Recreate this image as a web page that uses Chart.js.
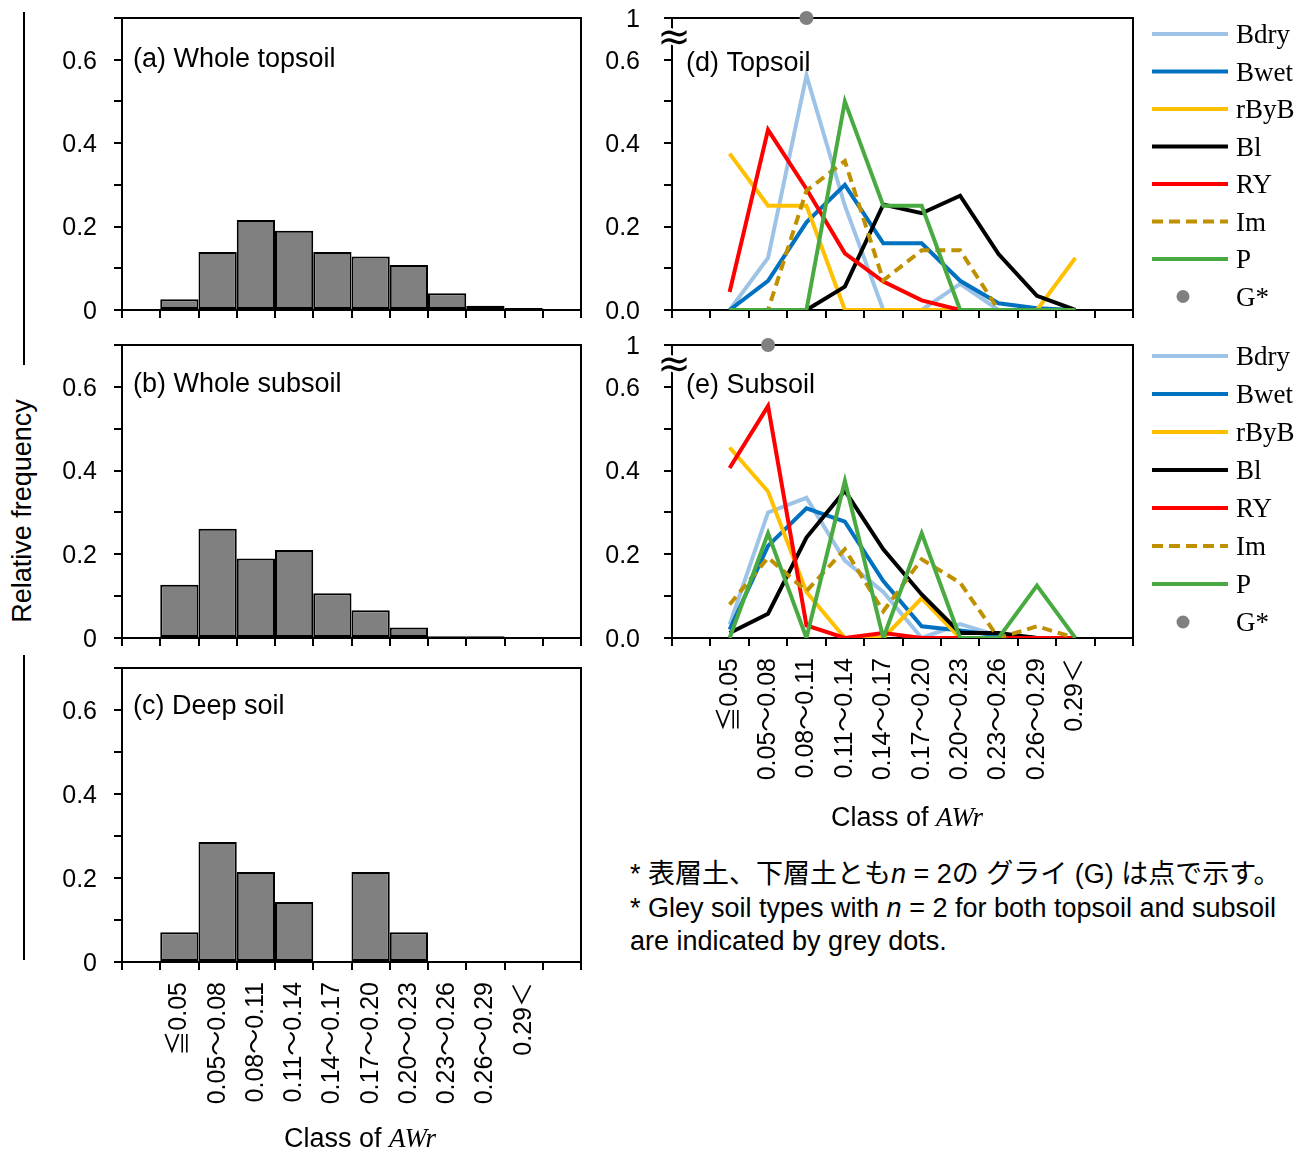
<!DOCTYPE html>
<html>
<head>
<meta charset="utf-8">
<script src="https://cdn.jsdelivr.net/npm/chart.js@4.4.1/dist/chart.umd.min.js"></script>
<style>
  html, body { margin: 0; padding: 0; background: #fff; }
  #fig { position: relative; width: 1310px; height: 1152px; overflow: hidden;
         font-family: 'Liberation Sans', Arial, 'Noto Sans CJK JP', sans-serif; color: #000; }
  canvas { position: absolute; }
  .vline { position: absolute; width: 2px; background: #000; }
  .ylab { position: absolute; left: 22px; top: 511px; font-size: 27px; white-space: nowrap;
          transform: translate(-50%, -50%) rotate(-90deg); }
  .xtitle { position: absolute; font-size: 27px; white-space: nowrap; transform: translate(-50%, -50%); }
  .awr { font-family: 'Liberation Serif', 'Times New Roman', serif; font-style: italic; }
  .note { position: absolute; left: 630px; top: 858px; font-size: 27px; line-height: 33.5px; white-space: nowrap; }
</style>
</head>
<body>
<div id="fig">
  <div class="vline" style="left:23px;top:12px;height:353px"></div>
  <div class="vline" style="left:23px;top:655px;height:305px"></div>
  <div class="ylab">Relative frequency</div>

  <canvas id="chartA" width="560" height="335" style="left:40px;top:0px"></canvas>
  <canvas id="chartB" width="560" height="335" style="left:40px;top:325px"></canvas>
  <canvas id="chartC" width="560" height="504" style="left:40px;top:648px"></canvas>
  <canvas id="chartD" width="720" height="335" style="left:590px;top:0px"></canvas>
  <canvas id="chartE" width="720" height="510" style="left:590px;top:325px"></canvas>

  <div class="xtitle" style="left:360px;top:1138px">Class of <span class="awr">AWr</span></div>
  <div class="xtitle" style="left:907px;top:817px">Class of <span class="awr">AWr</span></div>

  <div class="note">
    <div>* 表層土、下層土とも<i>n</i> = 2の グライ (G) は点で示す。</div>
    <div>* Gley soil types with <i>n</i> = 2 for both topsoil and subsoil</div>
    <div>are indicated by grey dots.</div>
  </div>
</div>

<script>
const SANS = "'Liberation Sans', Arial, 'Noto Sans CJK JP', sans-serif";
const SERIF = "'Liberation Serif', 'Times New Roman', serif";

// AWr classes; the axis keeps one empty slot on either side
const classes = ['≦0.05', '0.05～0.08', '0.08～0.11', '0.11～0.14', '0.14～0.17',
                 '0.17～0.20', '0.20～0.23', '0.23～0.26', '0.26～0.29', '0.29＜'];
const categories = ['', ...classes, ''];

// relative frequency, all soils
const wholeTopsoil = [0.026, 0.139, 0.216, 0.190, 0.139, 0.128, 0.108, 0.040, 0.010, 0.005];
const wholeSubsoil = [0.127, 0.261, 0.190, 0.210, 0.107, 0.066, 0.025, 0.004, 0.004, 0];
const deepSoil     = [0.071, 0.286, 0.214, 0.143, 0, 0.214, 0.071, 0, 0, 0];

// relative frequency by soil type, topsoil
const topBdry = [0, 0.125, 0.5625, 0.25, 0, 0, 0.0625, 0, 0, 0];
const topBwet = [0, 0.07, 0.21, 0.30, 0.16, 0.16, 0.07, 0.016, 0.004, 0];
const topRByB = [0.375, 0.25, 0.25, 0, 0, 0, 0, 0, 0, 0.125];
const topBl   = [0, 0, 0, 0.056, 0.253, 0.232, 0.274, 0.134, 0.034, 0];
const topRY   = [0.043, 0.432, 0.29, 0.136, 0.068, 0.023, 0, 0, 0, 0];
const topIm   = [0, 0, 0.286, 0.357, 0.071, 0.143, 0.143, 0, 0, 0];
const topP    = [0, 0, 0, 0.5, 0.25, 0.25, 0, 0, 0, 0];
const topG    = [null, null, 1, null, null, null, null, null, null, null];

// relative frequency by soil type, subsoil
const subBdry = [0.032, 0.30, 0.335, 0.185, 0.11, 0, 0.033, 0.005, 0, 0];
const subBwet = [0.02, 0.22, 0.31, 0.278, 0.136, 0.028, 0.018, 0.006, 0, 0];
const subRByB = [0.455, 0.35, 0.11, 0, 0, 0.095, 0, 0, 0, 0];
const subBl   = [0.012, 0.058, 0.24, 0.352, 0.212, 0.104, 0.012, 0.012, 0, 0];
const subRY   = [0.406, 0.554, 0.03, 0, 0.012, 0, 0, 0, 0, 0];
const subIm   = [0.08, 0.192, 0.112, 0.212, 0.064, 0.188, 0.132, 0, 0.028, 0];
const subP    = [0, 0.25, 0, 0.375, 0, 0.25, 0, 0, 0.125, 0];
const subG    = [null, 1, null, null, null, null, null, null, null, null];

const histTicks  = ['0', '', '0.2', '', '0.4', '', '0.6', ''];
const typesTicks = ['0.0', '', '0.2', '', '0.4', '', '0.6', '1'];

// the y axis is cut above 0.7; anything higher sits on the top line, labelled "1"
const AXIS_TOP = 0.7;
const atBreak = v => (v == null ? null : Math.min(v, AXIS_TOP));
const pad = arr => [null, ...arr, null];

Chart.defaults.font.family = SANS;
Chart.defaults.color = '#000';
Chart.defaults.animation = false;

// fixed axis sizes, so every panel's plot box lands at the same place
function fixSize(prop, size) {
  return s => {
    s[prop] = size;
    s.paddingTop = s.paddingBottom = s.paddingLeft = s.paddingRight = 0;
  };
}

const frame = {
  id: 'frame',
  beforeDatasetsDraw(chart) {
    const { ctx, chartArea: a } = chart;
    ctx.save();
    ctx.strokeStyle = '#000';
    ctx.lineWidth = 2;
    ctx.strokeRect(a.left, a.top, a.right - a.left, a.bottom - a.top);
    ctx.restore();
  },
};

const panelLabel = {
  id: 'panelLabel',
  afterDraw(chart, args, opts) {
    const { ctx, chartArea: a } = chart;
    ctx.save();
    ctx.font = `27px ${SANS}`;
    ctx.fillStyle = '#000';
    ctx.textBaseline = 'middle';
    ctx.fillText(opts.text, a.left + opts.dx, a.top + opts.dy);
    ctx.restore();
  },
};

const axisBreak = {
  id: 'axisBreak',
  afterDraw(chart) {
    const { ctx, chartArea: a } = chart;
    ctx.save();
    ctx.font = "40px 'DejaVu Sans'";
    ctx.textAlign = 'center';
    ctx.textBaseline = 'alphabetic';
    ctx.lineWidth = 5;
    ctx.strokeStyle = '#fff';
    ctx.strokeText('≈', a.left + 2, a.top + 32);
    ctx.fillStyle = '#000';
    ctx.fillText('≈', a.left + 2, a.top + 32);
    ctx.restore();
  },
};

const sideLegend = {
  id: 'sideLegend',
  afterDraw(chart, args, opts) {
    const { ctx, chartArea: a } = chart;
    const x0 = a.right + 19;
    ctx.save();
    ctx.font = `27px ${SERIF}`;
    ctx.textBaseline = 'middle';
    chart.data.datasets.forEach((ds, i) => {
      const y = a.top + opts.top + i * opts.step;
      if (ds.showLine === false) {
        ctx.fillStyle = ds.backgroundColor;
        ctx.beginPath();
        ctx.arc(x0 + 31, y, 6.5, 0, Math.PI * 2);
        ctx.fill();
      } else {
        ctx.strokeStyle = ds.borderColor;
        ctx.lineWidth = 4;
        ctx.setLineDash(ds.borderDash ? [11, 6] : []);
        ctx.beginPath();
        ctx.moveTo(x0, y);
        ctx.lineTo(x0 + 76, y);
        ctx.stroke();
        ctx.setLineDash([]);
      }
      ctx.fillStyle = '#000';
      ctx.fillText(ds.label, x0 + 84, y + 2);
    });
    ctx.restore();
  },
};

function yAxis(labels, padding) {
  return {
    min: 0,
    max: AXIS_TOP,
    afterFit: fixSize('width', 82),
    border: { color: '#000', width: 2 },
    grid: { drawOnChartArea: false, color: '#000', lineWidth: 2, tickLength: 8 },
    ticks: {
      stepSize: 0.1,
      padding,
      labelOffset: 2,
      font: { size: 25 },
      callback: v => labels[Math.round(v * 10)] ?? '',
    },
  };
}

function xAxis(showLabels, height) {
  return {
    offset: true,
    afterFit: fixSize('height', height),
    border: { color: '#000', width: 2 },
    grid: { offset: true, drawOnChartArea: false, color: '#000', lineWidth: 2, tickLength: 8 },
    ticks: {
      display: showLabels,
      autoSkip: false,
      minRotation: 90,
      maxRotation: 90,
      padding: 12,
      font: { size: 25 },
    },
  };
}

function histogram(id, values, label, showLabels, xHeight, top, labelDy) {
  new Chart(document.getElementById(id), {
    type: 'bar',
    data: {
      labels: categories,
      datasets: [{
        data: pad(values),
        backgroundColor: '#808080',
        borderColor: '#000',
        borderWidth: 2,
        borderSkipped: false,
        inflateAmount: 0,
        barPercentage: 1,
        categoryPercentage: 1,
      }],
    },
    options: {
      responsive: false,
      layout: { padding: { top, right: 19, left: 0, bottom: 0 } },
      scales: { x: xAxis(showLabels, xHeight), y: yAxis(histTicks, 17) },
      plugins: {
        legend: { display: false },
        tooltip: { enabled: false },
        panelLabel: { text: label, dx: 11, dy: labelDy },
      },
    },
    plugins: [frame, panelLabel],
  });
}

const typeStyles = [
  { label: 'Bdry', color: '#9DC3E6' },
  { label: 'Bwet', color: '#0070C0' },
  { label: 'rByB', color: '#FFC000' },
  { label: 'Bl',   color: '#000000' },
  { label: 'RY',   color: '#FF0000' },
  { label: 'Im',   color: '#BF9000', dash: [10, 6] },
  { label: 'P',    color: '#4AAA42' },
];

function typesChart(id, series, gley, label, showLabels, xHeight, top, labelDy, legend) {
  const n = series.length + 1;
  const datasets = series.map((vals, i) => ({
    label: typeStyles[i].label,
    data: pad(vals).map(atBreak),
    borderColor: typeStyles[i].color,
    backgroundColor: typeStyles[i].color,
    borderWidth: 4,
    borderDash: typeStyles[i].dash,
    pointRadius: 0,
    tension: 0,
    order: n - i,
  }));
  datasets.push({
    label: 'G*',
    data: pad(gley).map(atBreak),
    showLine: false,
    pointRadius: 7,
    pointHoverRadius: 7,
    pointBorderWidth: 0,
    backgroundColor: '#808080',
    borderColor: '#808080',
    clip: false,
    order: 0,
  });
  new Chart(document.getElementById(id), {
    type: 'line',
    data: { labels: categories, datasets },
    options: {
      responsive: false,
      layout: { padding: { top, right: 177, left: 0, bottom: 0 } },
      scales: { x: xAxis(showLabels, xHeight), y: yAxis(typesTicks, 24) },
      plugins: {
        legend: { display: false },
        tooltip: { enabled: false },
        panelLabel: { text: label, dx: 14, dy: labelDy },
        sideLegend: legend,
      },
    },
    plugins: [frame, panelLabel, axisBreak, sideLegend],
  });
}

histogram('chartA', wholeTopsoil, '(a) Whole topsoil', false, 25, 18, 42);
histogram('chartB', wholeSubsoil, '(b) Whole subsoil', false, 22, 20, 40);
histogram('chartC', deepSoil, '(c) Deep soil', true, 190, 20, 39);

typesChart('chartD', [topBdry, topBwet, topRByB, topBl, topRY, topIm, topP], topG,
  '(d) Topsoil', false, 25, 18, 46, { top: 16, step: 37.5 });
typesChart('chartE', [subBdry, subBwet, subRByB, subBl, subRY, subIm, subP], subG,
  '(e) Subsoil', true, 197, 20, 41, { top: 11, step: 38 });
</script>
</body>
</html>
